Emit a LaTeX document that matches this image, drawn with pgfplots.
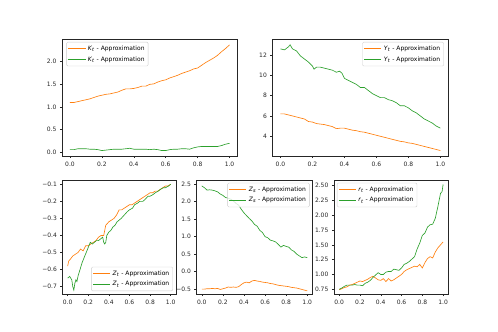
\documentclass[border=0pt]{standalone}
\usepackage{pgfplots}
\pgfplotsset{compat=1.18}
\usepackage{fontspec}
\setmainfont{DejaVu Sans}
\definecolor{mplorange}{HTML}{FF7F0E}
\definecolor{mplgreen}{HTML}{2CA02C}
\pgfplotsset{
  mpl/.style={
    scale only axis,
    anchor=south west,
    axis line style={draw=black!85, line width=0.5pt},
    tick align=outside,
    tick pos=left,
    major tick length=2.1pt,
    tick style={black!85, line width=0.5pt},
    tick label style={font=\fontsize{6}{7}\selectfont, text=black!85},
    xmin=-0.05, xmax=1.05,
    xtick={0,0.2,0.4,0.6,0.8,1.0},
    xticklabels={0.0,0.2,0.4,0.6,0.8,1.0},
    xticklabel style={yshift=-0.5pt},
    legend cell align=left,
    legend style={font=\fontsize{6}{7}\selectfont, draw=black!20, rounded corners=1.2pt,
      fill=white, fill opacity=0.8, text opacity=1, inner sep=1.5pt, row sep=0.8pt},
    legend image post style={line width=0.7pt},
    every axis plot/.append style={line width=0.65pt, no marks},
  },
}
\begin{document}
\begin{tikzpicture}
\path[use as bounding box] (0pt,0pt) rectangle (498pt,332pt);
% ---------- K_t ----------
\begin{axis}[mpl, at={(62pt,176pt)}, width=175.5pt, height=117pt,
  ymin=-0.08, ymax=2.50,
  ytick={0,0.5,1.0,1.5,2.0}, yticklabels={0.0,0.5,1.0,1.5,2.0},
  legend pos=north west, legend style={at={(0.025,0.975)}}]
\addplot[mplorange] coordinates {(0,1.10)(0.025,1.10)(0.05,1.12)(0.075,1.14)(0.1,1.16)(0.125,1.18)(0.15,1.21)(0.175,1.24)(0.2,1.26)(0.225,1.28)(0.25,1.29)(0.275,1.31)(0.3,1.33)(0.325,1.37)(0.35,1.40)(0.375,1.40)(0.4,1.41)(0.425,1.43)(0.45,1.46)(0.475,1.46)(0.5,1.50)(0.525,1.51)(0.55,1.55)(0.575,1.58)(0.6,1.60)(0.625,1.64)(0.65,1.67)(0.675,1.70)(0.7,1.74)(0.725,1.77)(0.75,1.80)(0.775,1.84)(0.8,1.86)(0.825,1.92)(0.85,1.98)(0.875,2.03)(0.9,2.08)(0.925,2.14)(0.95,2.22)(0.975,2.29)(1,2.37)};
\addlegendentry{\textit{K}\textsubscript{\textit{t}} - Approximation}
\addplot[mplgreen] coordinates {(0,0.06)(0.025,0.06)(0.05,0.08)(0.075,0.08)(0.1,0.08)(0.125,0.07)(0.15,0.07)(0.175,0.06)(0.2,0.04)(0.225,0.05)(0.25,0.06)(0.275,0.07)(0.3,0.07)(0.325,0.07)(0.35,0.08)(0.375,0.09)(0.4,0.07)(0.425,0.07)(0.45,0.07)(0.475,0.07)(0.5,0.06)(0.525,0.07)(0.55,0.06)(0.575,0.04)(0.6,0.04)(0.625,0.06)(0.65,0.07)(0.675,0.07)(0.7,0.08)(0.725,0.08)(0.75,0.07)(0.775,0.10)(0.8,0.12)(0.825,0.13)(0.85,0.13)(0.875,0.13)(0.9,0.13)(0.925,0.13)(0.95,0.15)(0.975,0.18)(1,0.20)};
\addlegendentry{\textit{K}\textsubscript{\textit{t}} - Approximation}
\end{axis}
% ---------- Y_t ----------
\begin{axis}[mpl, at={(272.5pt,176pt)}, width=175.8pt, height=117pt,
  ymin=2.06, ymax=13.57,
  ytick={4,6,8,10,12}, yticklabels={4,6,8,10,12},
  legend pos=north east, legend style={at={(0.975,0.975)}}]
\addplot[mplorange] coordinates {(0,6.2)(0.025,6.2)(0.05,6.1)(0.075,6.0)(0.1,5.9)(0.125,5.8)(0.15,5.7)(0.175,5.45)(0.2,5.4)(0.225,5.25)(0.25,5.2)(0.275,5.15)(0.3,5.05)(0.325,4.95)(0.35,4.75)(0.375,4.8)(0.4,4.8)(0.425,4.7)(0.45,4.6)(0.475,4.55)(0.5,4.45)(0.525,4.4)(0.55,4.3)(0.575,4.2)(0.6,4.1)(0.625,4.0)(0.65,3.9)(0.675,3.8)(0.7,3.7)(0.725,3.6)(0.75,3.5)(0.775,3.45)(0.8,3.35)(0.825,3.3)(0.85,3.2)(0.875,3.1)(0.9,3.0)(0.925,2.9)(0.95,2.8)(0.975,2.7)(1,2.6)};
\addlegendentry{\textit{Y}\textsubscript{\textit{t}} - Approximation}
\addplot[mplgreen] coordinates {(0,12.6)(0.025,12.5)(0.05,12.8)(0.06,13.0)(0.075,12.6)(0.1,12.4)(0.125,11.9)(0.15,11.6)(0.175,11.3)(0.2,10.9)(0.21,10.6)(0.225,10.8)(0.25,10.8)(0.275,10.7)(0.3,10.6)(0.325,10.5)(0.35,10.3)(0.37,10.4)(0.385,10.2)(0.4,9.7)(0.425,9.5)(0.45,9.3)(0.475,9.1)(0.5,8.8)(0.525,8.8)(0.55,8.5)(0.575,8.2)(0.6,8.0)(0.625,7.8)(0.65,7.8)(0.675,7.6)(0.7,7.5)(0.725,7.3)(0.75,7.0)(0.775,7.0)(0.8,6.8)(0.825,6.5)(0.85,6.3)(0.875,6.0)(0.9,5.7)(0.925,5.5)(0.95,5.3)(0.975,5.0)(1,4.8)};
\addlegendentry{\textit{Y}\textsubscript{\textit{t}} - Approximation}
\end{axis}
% ---------- Z_t ----------
\begin{axis}[mpl, at={(62.5pt,38pt)}, width=113.3pt, height=114pt,
  ymin=-0.743, ymax=-0.075,
  ytick={-0.7,-0.6,-0.5,-0.4,-0.3,-0.2,-0.1},
  yticklabels={−0.7,−0.6,−0.5,−0.4,−0.3,−0.2,−0.1},
  legend pos=south east, legend style={at={(0.975,0.025)}}]
\addplot[mplorange] coordinates {(0,-0.58)(0.01,-0.55)(0.025,-0.54)(0.05,-0.52)(0.075,-0.51)(0.1,-0.50)(0.125,-0.48)(0.15,-0.49)(0.175,-0.46)(0.2,-0.46)(0.225,-0.45)(0.25,-0.44)(0.275,-0.43)(0.3,-0.41)(0.325,-0.40)(0.35,-0.40)(0.37,-0.34)(0.4,-0.32)(0.425,-0.31)(0.45,-0.30)(0.475,-0.28)(0.5,-0.25)(0.525,-0.25)(0.55,-0.24)(0.575,-0.23)(0.6,-0.22)(0.625,-0.22)(0.65,-0.21)(0.675,-0.20)(0.7,-0.19)(0.725,-0.18)(0.75,-0.17)(0.775,-0.16)(0.8,-0.15)(0.825,-0.15)(0.85,-0.14)(0.875,-0.14)(0.9,-0.13)(0.925,-0.12)(0.95,-0.11)(0.975,-0.11)(1,-0.10)};
\addlegendentry{\textit{Z}\textsubscript{\textit{t}} - Approximation}
\addplot[mplgreen] coordinates {(0,-0.65)(0.02,-0.64)(0.04,-0.66)(0.05,-0.70)(0.06,-0.72)(0.07,-0.68)(0.08,-0.66)(0.09,-0.67)(0.1,-0.64)(0.12,-0.60)(0.14,-0.56)(0.16,-0.53)(0.18,-0.50)(0.2,-0.47)(0.22,-0.44)(0.24,-0.45)(0.26,-0.44)(0.28,-0.43)(0.3,-0.43)(0.32,-0.42)(0.34,-0.41)(0.35,-0.44)(0.36,-0.45)(0.37,-0.44)(0.38,-0.40)(0.4,-0.38)(0.42,-0.37)(0.44,-0.35)(0.46,-0.34)(0.48,-0.32)(0.5,-0.31)(0.52,-0.30)(0.55,-0.28)(0.58,-0.26)(0.6,-0.25)(0.63,-0.24)(0.65,-0.22)(0.68,-0.21)(0.7,-0.20)(0.73,-0.20)(0.75,-0.19)(0.78,-0.17)(0.8,-0.17)(0.83,-0.16)(0.85,-0.15)(0.88,-0.14)(0.9,-0.13)(0.93,-0.12)(0.95,-0.12)(0.98,-0.11)(1,-0.10)};
\addlegendentry{\textit{Z}\textsubscript{\textit{t}} - Approximation}
\end{axis}
% ---------- Z_s ----------
\begin{axis}[mpl, at={(196.5pt,38pt)}, width=116pt, height=114pt,
  ymin=-0.64, ymax=2.62,
  ytick={-0.5,0,0.5,1.0,1.5,2.0,2.5},
  yticklabels={−0.5,0.0,0.5,1.0,1.5,2.0,2.5},
  legend pos=north east, legend style={at={(0.975,0.975)}}]
\addplot[mplorange] coordinates {(0,-0.50)(0.025,-0.50)(0.05,-0.49)(0.075,-0.49)(0.1,-0.48)(0.125,-0.49)(0.15,-0.48)(0.175,-0.51)(0.2,-0.49)(0.225,-0.47)(0.25,-0.44)(0.275,-0.45)(0.3,-0.44)(0.325,-0.45)(0.35,-0.43)(0.375,-0.37)(0.4,-0.32)(0.425,-0.30)(0.45,-0.32)(0.475,-0.27)(0.5,-0.25)(0.525,-0.27)(0.55,-0.28)(0.575,-0.30)(0.6,-0.31)(0.625,-0.32)(0.65,-0.34)(0.675,-0.35)(0.7,-0.37)(0.725,-0.39)(0.75,-0.40)(0.775,-0.41)(0.8,-0.42)(0.825,-0.43)(0.85,-0.45)(0.875,-0.46)(0.9,-0.47)(0.925,-0.49)(0.95,-0.51)(0.975,-0.53)(1,-0.55)};
\addlegendentry{\textit{Z}\textsubscript{\textit{s}} - Approximation}
\addplot[mplgreen] coordinates {(0,2.45)(0.025,2.40)(0.05,2.33)(0.075,2.34)(0.1,2.33)(0.125,2.31)(0.15,2.28)(0.175,2.22)(0.2,2.18)(0.225,2.12)(0.25,2.10)(0.275,2.07)(0.3,2.02)(0.325,1.95)(0.35,1.90)(0.375,1.78)(0.4,1.68)(0.425,1.60)(0.45,1.52)(0.475,1.45)(0.5,1.35)(0.525,1.30)(0.55,1.18)(0.575,1.12)(0.6,1.00)(0.625,0.97)(0.65,0.90)(0.675,0.88)(0.7,0.85)(0.725,0.78)(0.75,0.70)(0.775,0.75)(0.8,0.72)(0.825,0.70)(0.85,0.62)(0.875,0.58)(0.9,0.50)(0.925,0.45)(0.95,0.40)(0.975,0.42)(1,0.40)};
\addlegendentry{\textit{Z}\textsubscript{\textit{s}} - Approximation}
\end{axis}
% ---------- r_t ----------
\begin{axis}[mpl, at={(334pt,38pt)}, width=114.3pt, height=114pt,
  ymin=0.67, ymax=2.596,
  ytick={0.75,1.0,1.25,1.5,1.75,2.0,2.25,2.5},
  yticklabels={0.75,1.00,1.25,1.50,1.75,2.00,2.25,2.50},
  legend pos=north west, legend style={at={(0.025,0.975)}}]
\addplot[mplorange] coordinates {(0,0.74)(0.025,0.76)(0.05,0.78)(0.075,0.79)(0.1,0.82)(0.125,0.83)(0.15,0.85)(0.175,0.87)(0.2,0.89)(0.225,0.88)(0.25,0.90)(0.275,0.92)(0.3,0.95)(0.325,0.97)(0.35,0.94)(0.375,0.91)(0.4,0.90)(0.425,0.93)(0.45,0.88)(0.475,0.93)(0.5,0.89)(0.525,0.91)(0.55,0.94)(0.575,0.97)(0.6,1.00)(0.625,1.05)(0.65,1.08)(0.675,1.10)(0.7,1.12)(0.725,1.14)(0.75,1.13)(0.775,1.17)(0.8,1.11)(0.825,1.20)(0.85,1.27)(0.875,1.30)(0.9,1.28)(0.925,1.38)(0.95,1.45)(0.975,1.50)(1,1.55)};
\addlegendentry{\textit{r}\textsubscript{\textit{t}} - Approximation}
\addplot[mplgreen] coordinates {(0,0.75)(0.025,0.77)(0.05,0.80)(0.075,0.82)(0.1,0.82)(0.125,0.82)(0.15,0.83)(0.175,0.82)(0.2,0.82)(0.225,0.81)(0.25,0.85)(0.275,0.87)(0.3,0.90)(0.325,0.95)(0.35,0.99)(0.375,1.03)(0.4,1.00)(0.425,1.00)(0.45,1.04)(0.475,1.05)(0.5,1.05)(0.525,1.09)(0.55,1.08)(0.575,1.07)(0.6,1.11)(0.625,1.17)(0.65,1.19)(0.675,1.22)(0.7,1.26)(0.725,1.30)(0.75,1.43)(0.775,1.53)(0.8,1.66)(0.825,1.70)(0.85,1.80)(0.875,1.84)(0.9,1.85)(0.925,1.95)(0.95,2.15)(0.975,2.37)(0.99,2.40)(1,2.52)};
\addlegendentry{\textit{r}\textsubscript{\textit{t}} - Approximation}
\end{axis}
\end{tikzpicture}
\end{document}
